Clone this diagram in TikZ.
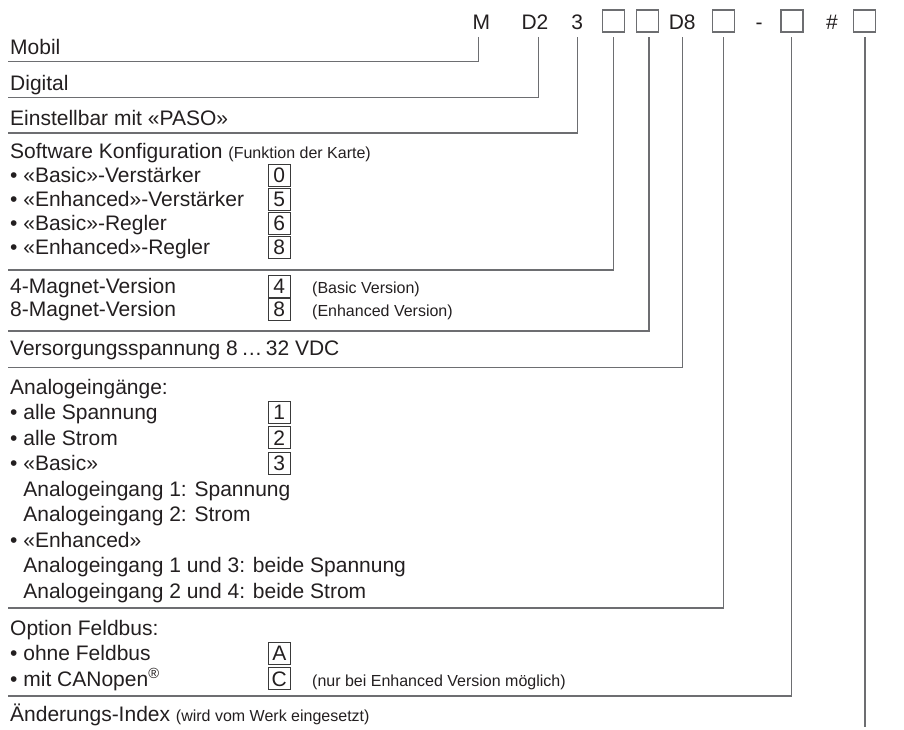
\documentclass[tikz,border=0pt]{standalone}
\usepackage{fontspec}
\setmainfont{Liberation Sans}
\definecolor{ink}{HTML}{231F20}
\definecolor{linec}{HTML}{6D6E71}
\definecolor{boxc}{HTML}{3A3A3A}
\definecolor{hboxc}{HTML}{6D6E71}
\newcommand{\smalltxt}{\fontsize{16}{19}\selectfont}
\begin{document}
\begin{tikzpicture}[x=1pt,y=-1pt,
  txt/.style={anchor=base west, inner sep=0pt, text=ink, font=\fontsize{21}{25}\selectfont},
  note/.style={anchor=base west, inner sep=0pt, text=ink, font=\smalltxt},
  hd/.style={anchor=base, inner sep=0pt, text=ink, font=\fontsize{21}{25}\selectfont},
  hbox/.style={draw=hboxc, line width=1.2pt, minimum width=22pt, minimum height=22pt, inner sep=0pt},
  vbox/.style={draw=boxc, line width=1pt, minimum width=22.5pt, minimum height=22pt, inner sep=0pt,
    anchor=base, text height=15pt, text depth=0pt, text=ink, font=\fontsize{21}{25}\selectfont},
  conn/.style={draw=linec, line width=1.4pt}]
\useasboundingbox (0,0) rectangle (904,729);

% header
\node[hd] (hM) at (481.3,29) {M};
\node[hd] (hD2) at (535,29) {D2};
\node[hd] (h3) at (577.2,29) {3};
\node[hbox] (hB1) at (613.3,21) {};
\node[hbox] (hB2) at (647.3,21) {};
\node[hd] (hD8) at (682.2,29) {D8};
\node[hbox] (hB3) at (723.7,21) {};
\node[hd] (hDash) at (759,29) {-};
\node[hbox] (hB4) at (792,21) {};
\node[hd] (hHash) at (832,29) {\#};
\node[hbox] (hB5) at (864.5,21) {};

% left column
\node[txt] (rMobil) at (10,54.5) {Mobil};
\node[txt] (rDigital) at (10,90) {Digital};
\node[txt] (rPaso) at (10,125.5) {Einstellbar mit «PASO»};

\node[txt] (rSoft) at (10,158.5) {Software Konfiguration {\smalltxt (Funktion der Karte)}};
\node[txt] (s1) at (10,182.5) {• «Basic»-Verstärker};
\node[txt] (s2) at (10,206.5) {• «Enhanced»-Verstärker};
\node[txt] (s3) at (10,230.5) {• «Basic»-Regler};
\node[txt] (s4) at (10,254.5) {• «Enhanced»-Regler};
\node[vbox] (b0) at (279.25,182.5) {0};
\node[vbox] (b5) at (279.25,206.5) {5};
\node[vbox] (b6) at (279.25,230.5) {6};
\node[vbox] (b8) at (279.25,254.5) {8};

\node[txt] (m1) at (10,293.5) {4-Magnet-Version};
\node[txt] (m2) at (10,316.5) {8-Magnet-Version};
\node[vbox] (bm4) at (279.25,293.5) {4};
\node[vbox] (bm8) at (279.25,316.5) {8};
\node[note] (n1) at (312,293.5) {(Basic Version)};
\node[note] (n2) at (312,316.5) {(Enhanced Version)};

\node[txt] (rVers) at (10,355) {Versorgungsspannung 8\,…\,32 VDC};

\node[txt] (a0) at (10,394) {Analogeingänge:};
\node[txt] (a1) at (10,419.5) {• alle Spannung};
\node[txt] (a2) at (10,445) {• alle Strom};
\node[txt] (a3) at (10,470.5) {• «Basic»};
\node[txt] (a4) at (10,496) {\phantom{• }Analogeingang 1: Spannung};
\node[txt] (a5) at (10,521.5) {\phantom{• }Analogeingang 2: Strom};
\node[txt] (a6) at (10,547) {• «Enhanced»};
\node[txt] (a7) at (10,572.5) {\phantom{• }Analogeingang 1 und 3: beide Spannung};
\node[txt] (a8) at (10,598) {\phantom{• }Analogeingang 2 und 4: beide Strom};
\node[vbox] (ba1) at (279.25,419.5) {1};
\node[vbox] (ba2) at (279.25,445) {2};
\node[vbox] (ba3) at (279.25,470.5) {3};

\node[txt] (f0) at (10,635) {Option Feldbus:};
\node[txt] (f1) at (10,660.5) {• ohne Feldbus};
\node[txt] (f2) at (10,686) {• mit CANopen\textsuperscript{®}};
\node[vbox] (bA) at (279.25,660.5) {A};
\node[vbox] (bC) at (279.25,686) {C};
\node[note] (n3) at (312,686) {(nur bei Enhanced Version möglich)};

\node[txt] (rIdx) at (10,721.5) {Änderungs-Index {\smalltxt (wird vom Werk eingesetzt)}};

% line ends
\coordinate (eM) at (8,61.7);
\coordinate (eD2) at (8,97.5);
\coordinate (e3) at (8,133);
\coordinate (eB1) at (8,270);
\coordinate (eB2) at (8,331);
\coordinate (eD8) at (8,367.5);
\coordinate (eB3) at (8,608);
\coordinate (eB4) at (8,696);
\coordinate (eB5) at (865,727);

% connectors
\draw[conn] ([xshift=-3pt,yshift=-7.7pt]hM.south) |- (eM);
\draw[conn] ([xshift=3.7pt,yshift=-7.7pt]hD2.south) |- (eD2);
\draw[conn] ([yshift=-7.7pt]h3.south) |- (e3);
\draw[conn] ([yshift=-4.7pt]hB1.south) |- (eB1);
\draw[conn] ([xshift=1.7pt,yshift=-4.7pt]hB2.south) |- (eB2);
\draw[conn] ([xshift=0.5pt,yshift=-7.7pt]hD8.south) |- (eD8);
\draw[conn] ([xshift=-0.4pt,yshift=-4.7pt]hB3.south) |- (eB3);
\draw[conn] ([xshift=-0.7pt,yshift=-4.7pt]hB4.south) |- (eB4);
\draw[conn] ([xshift=0.5pt,yshift=-4.7pt]hB5.south) -- (eB5);
\end{tikzpicture}
\end{document}
